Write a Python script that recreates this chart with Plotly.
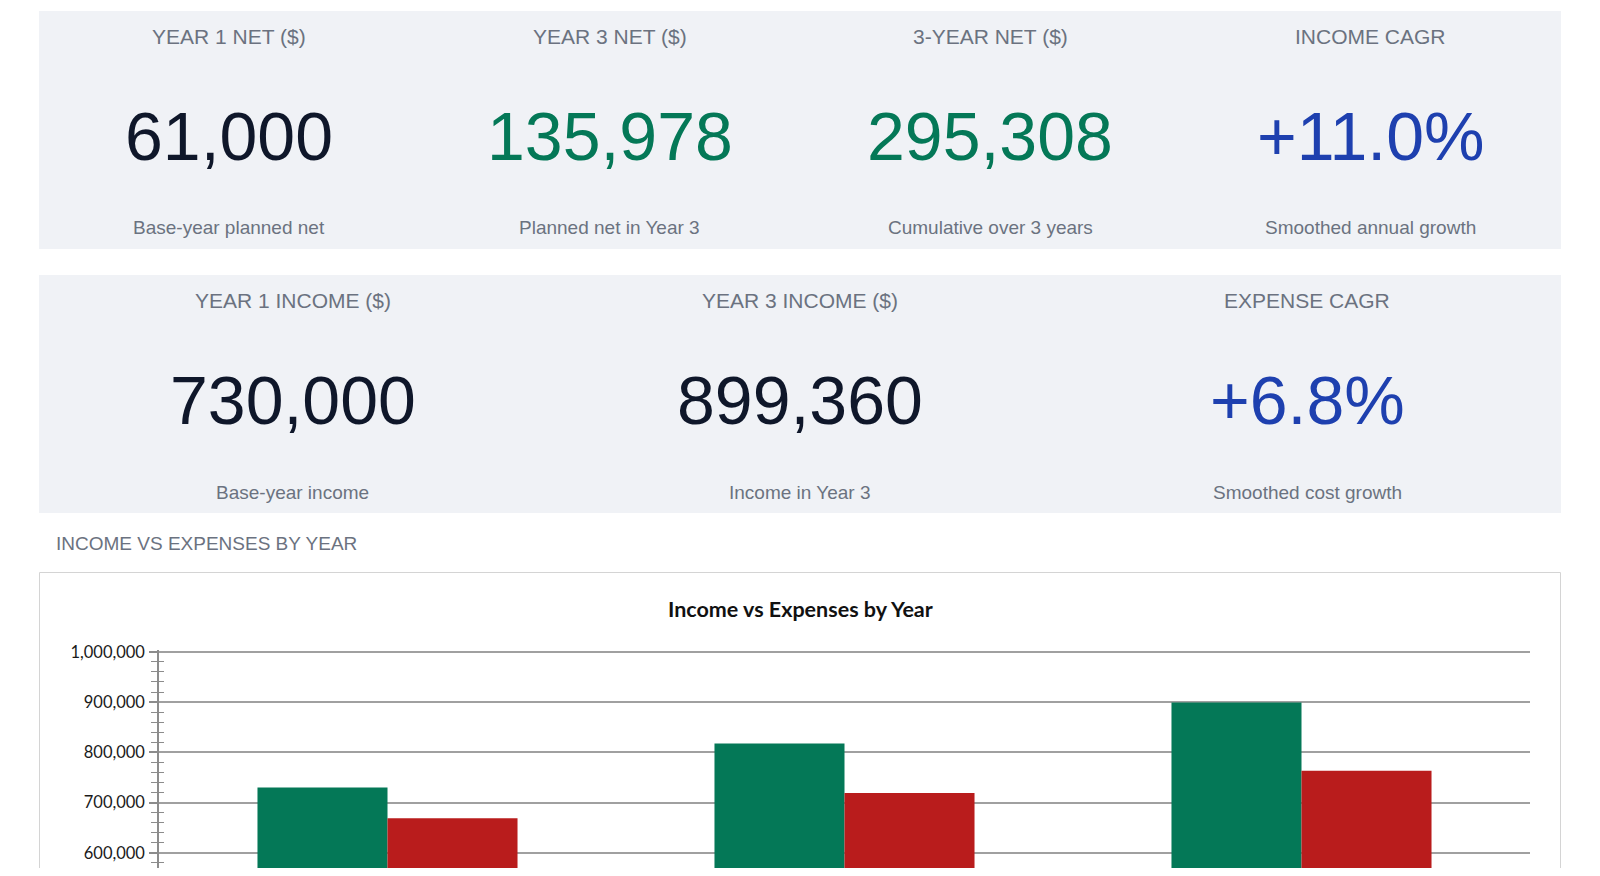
import plotly.graph_objects as go

# ---------------- data ----------------
years = ["Year 1", "Year 2", "Year 3"]
income = [730000, 817600, 899360]
expenses = [669000, 719270, 763382]

row1_titles = ["YEAR 1 NET ($)", "YEAR 3 NET ($)", "3-YEAR NET ($)", "INCOME CAGR"]
row1_subs = ["Base-year planned net", "Planned net in Year 3", "Cumulative over 3 years", "Smoothed annual growth"]
row2_titles = ["YEAR 1 INCOME ($)", "YEAR 3 INCOME ($)", "EXPENSE CAGR"]
row2_subs = ["Base-year income", "Income in Year 3", "Smoothed cost growth"]

net = [i - e for i, e in zip(income, expenses)]
inc_cagr = (income[-1] / income[0]) ** (1 / (len(years) - 1)) - 1
exp_cagr = (expenses[-1] / expenses[0]) ** (1 / (len(years) - 1)) - 1

row1_values = [f"{net[0]:,}", f"{net[-1]:,}", f"{sum(net):,}", f"+{inc_cagr*100:.1f}%"]
row2_values = [f"{income[0]:,}", f"{income[-1]:,}", f"+{exp_cagr*100:.1f}%"]

# ---------------- style ----------------
W, H = 1584, 860
OFF = 8  # body margin of the page

def fx(X):
    return (X - OFF) / W

def fy(Y):
    return 1 - (Y - OFF) / H

GREEN = "#047857"
RED = "#b91c1c"
BLUE = "#1e40af"
DARK = "#0f172a"
GRAY = "#6b7280"
PANEL = "#f0f2f6"
TICK = "#8c8c8c"
SANS = "Liberation Sans, Arial, sans-serif"
LATO = "Lato, sans-serif"

fig = go.Figure()
fig.add_trace(go.Bar(name="Income", x=years, y=income, marker=dict(color=GREEN, line=dict(width=0))))
fig.add_trace(go.Bar(name="Expenses", x=years, y=expenses, marker=dict(color=RED, line=dict(width=0))))
# invisible companion trace so the overlaid axis (inner half of the minor ticks) is drawn
fig.add_trace(go.Scatter(x=years, y=income, yaxis="y2", mode="markers",
                         marker=dict(opacity=0), hoverinfo="skip", showlegend=False))

shapes = []
annotations = []

# KPI panels
panel_x0, panel_x1 = 39, 1561
rows = [
    (11, 249, row1_titles, row1_values, row1_subs, [DARK, GREEN, GREEN, BLUE], 0),
    (275, 513, row2_titles, row2_values, row2_subs, [DARK, DARK, BLUE], 1),
]
for top, bot, titles, values, subs, colors, extra in rows:
    shapes.append(dict(type="rect", xref="paper", yref="paper",
                       x0=fx(panel_x0), x1=fx(panel_x1), y0=fy(bot), y1=fy(top),
                       fillcolor=PANEL, line=dict(width=0), layer="below"))
    n = len(titles)
    cw = (panel_x1 - panel_x0) / n
    for k in range(n):
        cx = panel_x0 + cw * (k + 0.5)
        annotations.append(dict(text=titles[k], x=fx(cx), y=fy(top + 25), xref="paper", yref="paper",
                                showarrow=False, xanchor="center", yanchor="middle",
                                font=dict(family=SANS, size=21, color=GRAY)))
        annotations.append(dict(text=values[k], x=fx(cx), y=fy(top + 125), xref="paper", yref="paper",
                                showarrow=False, xanchor="center", yanchor="middle",
                                font=dict(family=SANS, size=68, color=colors[k])))
        annotations.append(dict(text=subs[k], x=fx(cx), y=fy(top + 216 + extra), xref="paper", yref="paper",
                                showarrow=False, xanchor="center", yanchor="middle",
                                font=dict(family=SANS, size=19, color=GRAY)))

# section label
annotations.append(dict(text="INCOME VS EXPENSES BY YEAR", x=fx(54), y=fy(543), xref="paper", yref="paper",
                        showarrow=False, xanchor="left", yanchor="middle",
                        font=dict(family=SANS, size=19, color=GRAY)))

# chart box
shapes.append(dict(type="rect", xref="paper", yref="paper",
                   x0=fx(39.5), x1=fx(1560.5), y0=fy(960), y1=fy(572.5),
                   fillcolor="white", line=dict(width=1, color="#d4d4d4"), layer="below"))

# chart title
annotations.append(dict(text="<b>Income vs Expenses by Year</b>", x=fx(800), y=fy(609), xref="paper", yref="paper",
                        showarrow=False, xanchor="center", yanchor="middle",
                        font=dict(family=LATO, size=21.5, color="#111111")))

YR = [570000, 1004000]
fig.update_layout(
    width=W, height=H,
    margin=dict(l=0, r=0, t=0, b=0),
    paper_bgcolor="white", plot_bgcolor="rgba(0,0,0,0)",
    showlegend=False,
    barmode="group", bargap=0.431, bargroupgap=0,
    shapes=shapes, annotations=annotations,
    xaxis=dict(domain=[fx(159), fx(1530)], showgrid=False, showline=False, zeroline=False,
               showticklabels=False, ticks="", automargin=False, fixedrange=True),
    yaxis=dict(domain=[fy(868), fy(649.8)], range=YR, automargin=False,
               tickmode="linear", tick0=0, dtick=100000, tickformat=",d",
               showgrid=True, gridcolor="#a0a0a0", gridwidth=2, zeroline=False,
               showline=True, linecolor=TICK, linewidth=1.5,
               ticks="outside", ticklen=8, tickwidth=1.5, tickcolor=TICK,
               ticklabelstandoff=1,
               tickfont=dict(family=LATO, size=16.5, color="#1a1a1a"),
               minor=dict(dtick=20000, tick0=0, ticks="outside", ticklen=6, tickwidth=1.3,
                          tickcolor=TICK, showgrid=False)),
    yaxis2=dict(domain=[fy(868), fy(649.8)], range=YR, overlaying="y", anchor="x", side="left",
                automargin=False, showgrid=False, zeroline=False, showline=False,
                showticklabels=False, ticks="", tickmode="linear", tick0=0, dtick=100000,
                minor=dict(dtick=20000, tick0=0, ticks="inside", ticklen=5, tickwidth=1.3,
                           tickcolor=TICK, showgrid=False)),
)

fig.write_html("out.html")
